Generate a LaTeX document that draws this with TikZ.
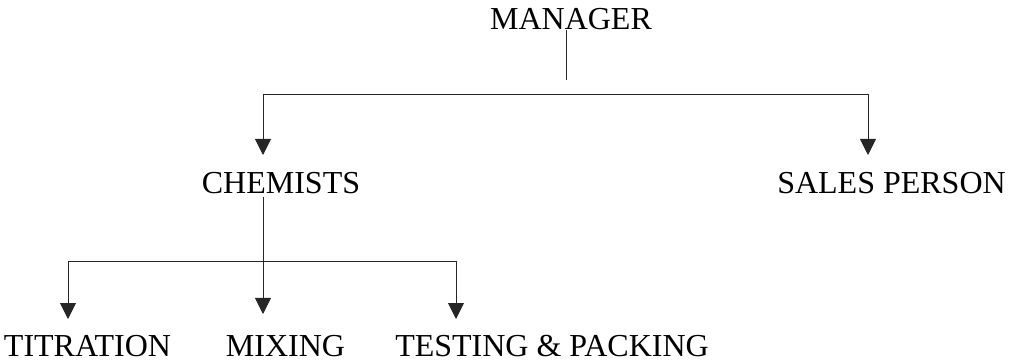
\documentclass[tikz,border=0pt]{standalone}
\usepackage{fontspec}
\setmainfont{Liberation Serif}
\usetikzlibrary{arrows.meta}
\begin{document}
\begin{tikzpicture}[x=1pt,y=-1pt,
  lbl/.style={anchor=base,inner sep=0pt,font=\fontsize{32}{38}\selectfont},
  conn/.style={draw=black!85,line width=0.9pt},
  arr/.style={conn,-{Triangle[width=16pt,length=16pt]}}]
\useasboundingbox (0,0) rectangle (1009,363);
\node[lbl] (mgr) at (571,30) {MANAGER};
\node[lbl] (chem) at (281,194) {CHEMISTS};
\node[lbl] (sales) at (891.5,194) {SALES PERSON};
\node[lbl] (tit) at (87.5,356) {TITRATION};
\node[lbl] (mix) at (285.5,356) {MIXING};
\node[lbl] (test) at (552,356) {TESTING \& PACKING};
% junction coordinates
\coordinate (m1) at (566,30);
\coordinate (m2) at (566,80);
\coordinate (h1) at (263,94);
\coordinate (h2) at (868,94);
\coordinate (t1) at (263,155);
\coordinate (t2) at (868,155);
\coordinate (c1) at (263,197);
\coordinate (c2) at (263,314);
\coordinate (b1) at (68,261);
\coordinate (b2) at (456,261);
\coordinate (bt1) at (68,319);
\coordinate (bt2) at (456,319);
\draw[conn] (m1) -- (m2);
\draw[conn] (h1) -- (h2);
\draw[arr] (h1) -- (t1);
\draw[arr] (h2) -- (t2);
\draw[arr] (c1) -- (c2);
\draw[conn] (b1) -- (b2);
\draw[arr] (b1) -- (bt1);
\draw[arr] (b2) -- (bt2);
\end{tikzpicture}
\end{document}
